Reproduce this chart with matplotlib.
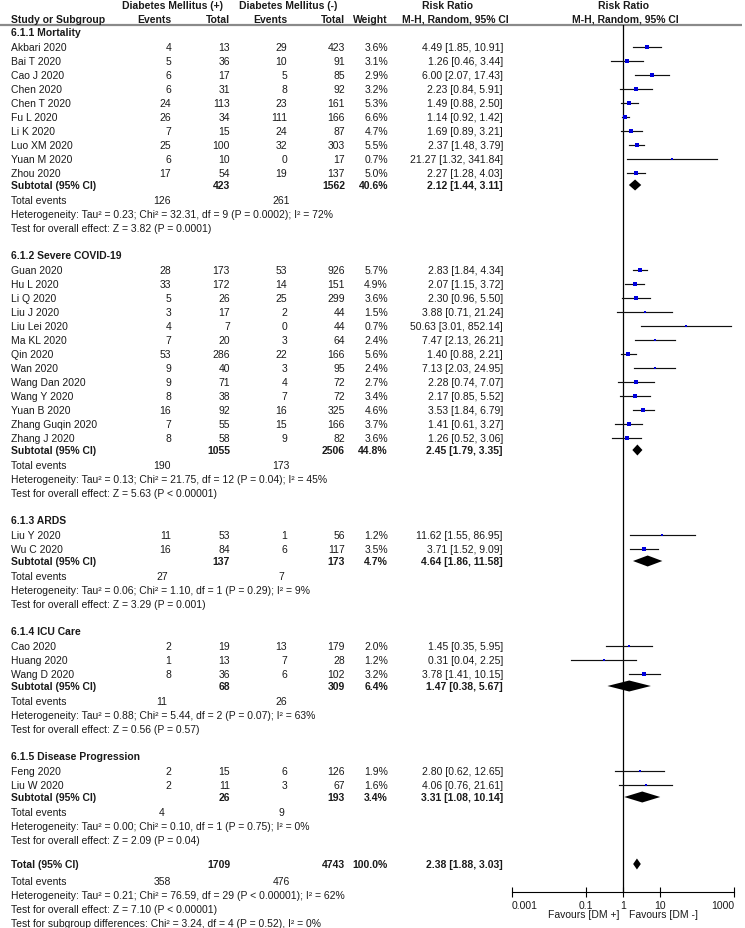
import matplotlib
matplotlib.use("Agg")
import matplotlib.pyplot as plt
from matplotlib.ticker import NullLocator
import numpy as np

# ---- data ----
group_titles = ["6.1.1 Mortality", "6.1.2 Severe COVID-19", "6.1.3 ARDS",
                "6.1.4 ICU Care", "6.1.5 Disease Progression"]

study_names = ["Akbari 2020", "Bai T 2020", "Cao J 2020", "Chen 2020", "Chen T 2020",
               "Fu L 2020", "Li K 2020", "Luo XM 2020", "Yuan M 2020", "Zhou 2020",
               "Guan 2020", "Hu L 2020", "Li Q 2020", "Liu J 2020", "Liu Lei 2020",
               "Ma KL 2020", "Qin 2020", "Wan 2020", "Wang Dan 2020", "Wang Y 2020",
               "Yuan B 2020", "Zhang Guqin 2020", "Zhang J 2020",
               "Liu Y 2020", "Wu C 2020",
               "Cao 2020", "Huang 2020", "Wang D 2020",
               "Feng 2020", "Liu W 2020"]
study_group = [0] * 10 + [1] * 13 + [2] * 2 + [3] * 3 + [4] * 2

ev_dm = [4, 5, 6, 6, 24, 26, 7, 25, 6, 17,
         28, 33, 5, 3, 4, 7, 53, 9, 9, 8, 16, 7, 8,
         11, 16, 2, 1, 8, 2, 2]
tot_dm = [13, 36, 17, 31, 113, 34, 15, 100, 10, 54,
          173, 172, 26, 17, 7, 20, 286, 40, 71, 38, 92, 55, 58,
          53, 84, 19, 13, 36, 15, 11]
ev_nodm = [29, 10, 5, 8, 23, 111, 24, 32, 0, 19,
           53, 14, 25, 2, 0, 3, 22, 3, 4, 7, 16, 15, 9,
           1, 6, 13, 7, 6, 6, 3]
tot_nodm = [423, 91, 85, 92, 161, 166, 87, 303, 17, 137,
            926, 151, 299, 44, 44, 64, 166, 95, 72, 72, 325, 166, 82,
            56, 117, 179, 28, 102, 126, 67]
weight = [3.6, 3.1, 2.9, 3.2, 5.3, 6.6, 4.7, 5.5, 0.7, 5.0,
          5.7, 4.9, 3.6, 1.5, 0.7, 2.4, 5.6, 2.4, 2.7, 3.4, 4.6, 3.7, 3.6,
          1.2, 3.5, 2.0, 1.2, 3.2, 1.9, 1.6]
rr = [4.49, 1.26, 6.00, 2.23, 1.49, 1.14, 1.69, 2.37, 21.27, 2.27,
      2.83, 2.07, 2.30, 3.88, 50.63, 7.47, 1.40, 7.13, 2.28, 2.17, 3.53, 1.41, 1.26,
      11.62, 3.71, 1.45, 0.31, 3.78, 2.80, 4.06]
ci_lo = [1.85, 0.46, 2.07, 0.84, 0.88, 0.92, 0.89, 1.48, 1.32, 1.28,
         1.84, 1.15, 0.96, 0.71, 3.01, 2.13, 0.88, 2.03, 0.74, 0.85, 1.84, 0.61, 0.52,
         1.55, 1.52, 0.35, 0.04, 1.41, 0.62, 0.76]
ci_hi = [10.91, 3.44, 17.43, 5.91, 2.50, 1.42, 3.21, 3.79, 341.84, 4.03,
         4.34, 3.72, 5.50, 21.24, 852.14, 26.21, 2.21, 24.95, 7.07, 5.52, 6.79, 3.27, 3.06,
         86.95, 9.09, 5.95, 2.25, 10.15, 12.65, 21.61]

sub_tot_dm = [423, 1055, 137, 68, 26]
sub_tot_nodm = [1562, 2506, 173, 309, 193]
sub_weight = [40.6, 44.8, 4.7, 6.4, 3.4]
sub_rr = [2.12, 2.45, 4.64, 1.47, 3.31]
sub_lo = [1.44, 1.79, 1.86, 0.38, 1.08]
sub_hi = [3.11, 3.35, 11.58, 5.67, 10.14]
sub_ev_dm = [126, 190, 27, 11, 4]
sub_ev_nodm = [261, 173, 7, 26, 9]
sub_het = ["Tau\u00b2 = 0.23; Chi\u00b2 = 32.31, df = 9 (P = 0.0002); I\u00b2 = 72%",
           "Tau\u00b2 = 0.13; Chi\u00b2 = 21.75, df = 12 (P = 0.04); I\u00b2 = 45%",
           "Tau\u00b2 = 0.06; Chi\u00b2 = 1.10, df = 1 (P = 0.29); I\u00b2 = 9%",
           "Tau\u00b2 = 0.88; Chi\u00b2 = 5.44, df = 2 (P = 0.07); I\u00b2 = 63%",
           "Tau\u00b2 = 0.00; Chi\u00b2 = 0.10, df = 1 (P = 0.75); I\u00b2 = 0%"]
sub_z = ["Z = 3.82 (P = 0.0001)", "Z = 5.63 (P < 0.00001)", "Z = 3.29 (P = 0.001)",
         "Z = 0.56 (P = 0.57)", "Z = 2.09 (P = 0.04)"]

total_n = [1709, 4743]
total_events = [358, 476]
total_weight = 100.0
total_rr, total_lo, total_hi = 2.38, 1.88, 3.03
total_het = "Tau\u00b2 = 0.21; Chi\u00b2 = 76.59, df = 29 (P < 0.00001); I\u00b2 = 62%"
total_z = "Z = 7.10 (P < 0.00001)"
subgroup_test = "Chi\u00b2 = 3.24, df = 4 (P = 0.52), I\u00b2 = 0%"

axis_ticks = [0.001, 0.1, 1, 10, 1000]
axis_labels = ["0.001", "0.1", "1", "10", "1000"]

# ---- style ----
plt.rcParams['font.family'] = ['Liberation Sans', 'DejaVu Sans']
FS = 7.45
INK = '#1a1a1a'
W, H = 745, 929

fig = plt.figure(figsize=(W / 100, H / 100), dpi=100)
tax = fig.add_axes([0, 0, 1, 1])
tax.set_xlim(0, W)
tax.set_ylim(H, 0)
tax.axis('off')

# forest panel, y in the same pixel units as the text panel
PX_L, PX_R, PY_T, PY_B = 512, 734, 25.5, 893
fax = fig.add_axes([PX_L / W, 1 - PY_B / H, (PX_R - PX_L) / W, (PY_B - PY_T) / H])
fax.set_xscale('log')
fax.set_xlim(0.001, 1000)
fax.set_ylim(PY_B, PY_T)
fax.patch.set_alpha(0)
for s in ['top', 'left', 'right']:
    fax.spines[s].set_visible(False)
fax.spines['bottom'].set_linewidth(0.8)
fax.set_yticks([])
fax.set_xticks(axis_ticks)
fax.set_xticklabels(axis_labels)
fax.xaxis.set_minor_locator(NullLocator())
fax.tick_params(axis='x', direction='inout', length=7, width=0.8, labelsize=FS,
                pad=2, labelcolor=INK)
tl = fax.get_xticklabels()
tl[0].set_ha('left')
tl[-1].set_ha('right')
fax.axvline(1, color='black', lw=0.9)

X_NAME = 11
X_EV1, X_TOT1, X_EV2, X_TOT2 = 171, 230, 287, 345
X_TE1, X_TE2 = 162, 281
X_W, X_CI = 388, 503


def txt(x, y, s, ha='left', bold=False):
    tax.text(x, y, s, ha=ha, va='center', fontsize=FS, color=INK,
             fontweight='bold' if bold else 'normal')


def diamond(lo, mid, hi, y, h=5.5):
    fax.fill([lo, mid, hi, mid], [y, y - h, y, y + h], color='black', lw=0)


# headers
txt(172, 6, "Diabetes Mellitus (+)", ha='center', bold=True)
txt(288, 6, "Diabetes Mellitus (-)", ha='center', bold=True)
txt(447, 6, "Risk Ratio", ha='center', bold=True)
txt(623, 6, "Risk Ratio", ha='center', bold=True)
txt(X_NAME, 19.5, "Study or Subgroup", bold=True)
txt(X_EV1, 19.5, "Events", ha='right', bold=True)
txt(X_TOT1, 19.5, "Total", ha='right', bold=True)
txt(X_EV2, 19.5, "Events", ha='right', bold=True)
txt(X_TOT2, 19.5, "Total", ha='right', bold=True)
txt(X_W, 19.5, "Weight", ha='right', bold=True)
txt(455, 19.5, "M-H, Random, 95% CI", ha='center', bold=True)
txt(625, 19.5, "M-H, Random, 95% CI", ha='center', bold=True)
tax.plot([0, W - 3], [25.5, 25.5], color='#8a8a8a', lw=1.6, solid_capstyle='butt')

y_head = 33.0
for g, title in enumerate(group_titles):
    txt(X_NAME, y_head, title, bold=True)
    idx = [i for i, gg in enumerate(study_group) if gg == g]
    ys = y_head + 15 + 14 * np.arange(len(idx))
    for i, yy in zip(idx, ys):
        txt(X_NAME, yy, study_names[i])
        txt(X_EV1, yy, str(ev_dm[i]), ha='right')
        txt(X_TOT1, yy, str(tot_dm[i]), ha='right')
        txt(X_EV2, yy, str(ev_nodm[i]), ha='right')
        txt(X_TOT2, yy, str(tot_nodm[i]), ha='right')
        txt(X_W, yy, f"{weight[i]:.1f}%", ha='right')
        txt(X_CI, yy, f"{rr[i]:.2f} [{ci_lo[i]:.2f}, {ci_hi[i]:.2f}]", ha='right')
        fax.plot([ci_lo[i], ci_hi[i]], [yy, yy], color='#111111', lw=0.85)
        fax.plot(rr[i], yy, 's', color='#0000dd', ms=1.9 + 0.1 * weight[i], mew=0)
    y_sub = ys[-1] + 12
    txt(X_NAME, y_sub, "Subtotal (95% CI)", bold=True)
    txt(X_TOT1, y_sub, str(sub_tot_dm[g]), ha='right', bold=True)
    txt(X_TOT2, y_sub, str(sub_tot_nodm[g]), ha='right', bold=True)
    txt(X_W, y_sub, f"{sub_weight[g]:.1f}%", ha='right', bold=True)
    txt(X_CI, y_sub, f"{sub_rr[g]:.2f} [{sub_lo[g]:.2f}, {sub_hi[g]:.2f}]", ha='right', bold=True)
    diamond(sub_lo[g], sub_rr[g], sub_hi[g], y_sub)
    y_te = y_sub + 15
    txt(X_NAME, y_te, "Total events")
    txt(X_TE1, y_te, str(sub_ev_dm[g]), ha='center')
    txt(X_TE2, y_te, str(sub_ev_nodm[g]), ha='center')
    txt(X_NAME, y_te + 14, "Heterogeneity: " + sub_het[g])
    txt(X_NAME, y_te + 28, "Test for overall effect: " + sub_z[g])
    y_last = y_te + 28
    y_head = y_last + 27

# overall
y_tot = y_last + 24
txt(X_NAME, y_tot, "Total (95% CI)", bold=True)
txt(X_TOT1, y_tot, str(total_n[0]), ha='right', bold=True)
txt(X_TOT2, y_tot, str(total_n[1]), ha='right', bold=True)
txt(X_W, y_tot, f"{total_weight:.1f}%", ha='right', bold=True)
txt(X_CI, y_tot, f"{total_rr:.2f} [{total_lo:.2f}, {total_hi:.2f}]", ha='right', bold=True)
diamond(total_lo, total_rr, total_hi, y_tot)
y_te = y_tot + 17
txt(X_NAME, y_te, "Total events")
txt(X_TE1, y_te, str(total_events[0]), ha='center')
txt(X_TE2, y_te, str(total_events[1]), ha='center')
txt(X_NAME, y_te + 14, "Heterogeneity: " + total_het)
txt(X_NAME, y_te + 28, "Test for overall effect: " + total_z)
txt(X_NAME, y_te + 42, "Test for subgroup differences: " + subgroup_test)

txt(620, 915, "Favours [DM +]", ha='right')
txt(629, 915, "Favours [DM -]")

fig.savefig("out.png", dpi=100)
